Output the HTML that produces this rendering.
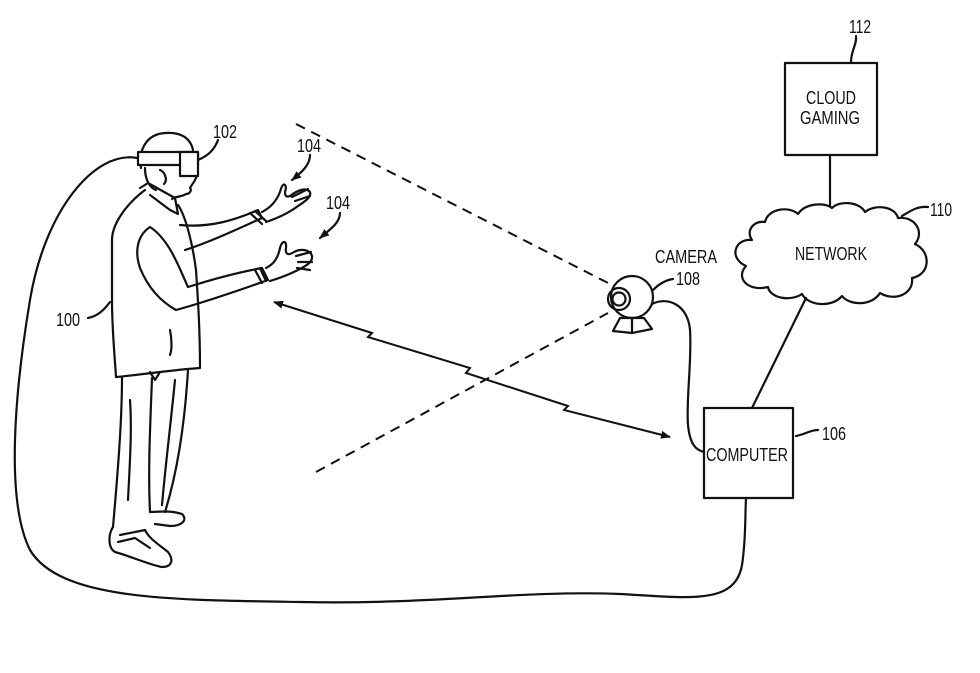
<!DOCTYPE html>
<html><head><meta charset="utf-8"><style>
html,body{margin:0;padding:0;background:#fff;}
svg{display:block;}
text{font-family:"Liberation Sans",sans-serif;fill:#111;}
</style></head><body>
<svg width="980" height="673" viewBox="0 0 980 673" xmlns="http://www.w3.org/2000/svg">
<defs>
<marker id="ah" markerWidth="10" markerHeight="8" refX="9" refY="4" orient="auto" markerUnits="userSpaceOnUse">
<path d="M0,0 L10,4 L0,8 Z" fill="#111"/></marker>
<marker id="ahs" markerWidth="10" markerHeight="8" refX="1" refY="4" orient="auto" markerUnits="userSpaceOnUse">
<path d="M10,0 L0,4 L10,8 Z" fill="#111"/></marker>
</defs>
<g fill="none" stroke="#111" stroke-width="2.2" stroke-linecap="round" stroke-linejoin="round">
<rect x="785" y="63" width="92" height="92"/>
<path d="M851,62 C851,50 857,45 856,36"/>
<line x1="830" y1="155" x2="830" y2="206"/>
<path d="M765,222 C768,208 790,206 798,214 C805,203 825,202 832,208 C840,200 860,202 865,212 C875,204 895,206 898,218 C915,216 925,232 915,244 C932,252 930,275 912,278 C914,294 895,302 880,293 C872,306 850,306 842,296 C832,308 808,306 802,294 C790,302 770,298 768,287 C748,292 735,278 746,266 C728,258 735,238 752,240 C745,230 755,220 765,222 Z"/>
<path d="M902,216 C912,210 918,206 928,207"/>
<line x1="806" y1="298" x2="752" y2="408"/>
<rect x="704" y="408" width="89" height="90"/>
<path d="M796,436 C806,434 810,430 818,430"/>
<circle cx="632" cy="297" r="21"/>
<circle cx="619" cy="299" r="11"/>
<circle cx="619" cy="299" r="6.5"/>
<path d="M613,331 L620,318 L644,318 L652,329 L632,333 Z M632,319 L632,333"/>
<path d="M653,290 C660,283 666,280 673,279"/>
<path d="M652,304 C668,296 688,305 690,330 C692,360 686,400 688,425 C690,445 696,450 704,452"/>
<path d="M137,158 C95,150 45,210 30,300 C15,390 5,500 30,550 C60,600 170,600 300,602 C430,605 520,590 620,594 C690,598 735,605 742,565 C746,540 745,515 746,498"/>
<path d="M198,160 C210,155 215,148 218,140"/>
<path d="M88,318 C98,316 104,310 110,302"/>
<path d="M310,155 C310,165 302,172 292,180" marker-end="url(#ah)"/>
<path d="M340,213 C340,222 332,228 320,238" marker-end="url(#ah)"/>
</g>
<g fill="none" stroke="#111" stroke-width="2" stroke-dasharray="10,7">
<line x1="296" y1="124" x2="612" y2="285"/>
<line x1="316" y1="472" x2="608" y2="313"/>
</g>
<path d="M274,302 L372,333 L368,337 L470,368 L466,373 L568,406 L564,410 L670,437" fill="none" stroke="#111" stroke-width="2" marker-start="url(#ahs)" marker-end="url(#ah)"/>
<g fill="none" stroke="#111" stroke-width="2.2" stroke-linejoin="round" stroke-linecap="round">
<path d="M141,168 C138,148 148,134 165,133 C178,132 190,136 193,150"/>
<path d="M145,168 C145,180 150,188 156,190"/>
<path d="M197,175 C195,182 192,184 190,188 C192,190 190,194 186,194 C182,197 176,196 172,199"/>
<path d="M160,170 C165,172 168,180 164,184"/>
<rect x="138" y="152" width="60" height="13" fill="#fff"/>
<rect x="180" y="152" width="18" height="24" fill="#fff"/>
<path d="M140,188 L148,183 L175,198 L178,214 L170,210 L150,195"/>
<path d="M145,190 C125,205 112,225 112,240 L112,300 C112,330 115,360 116,377 C140,375 170,370 200,368 C200,330 198,300 196,270 C192,240 185,215 178,205"/>
<path d="M180,225 C210,228 235,220 258,210 L262,218 C240,228 210,242 185,250"/>
<path d="M250,213 L262,224 M255,211 L266,221"/>
<path d="M262,212 C270,208 276,202 280,192 C282,184 285,182 286,188 C284,194 285,198 290,196 C298,190 306,187 310,192 C312,197 304,202 298,206 C290,212 278,218 266,222"/>
<path d="M292,197 L308,189 M295,201 L310,196"/>
<path d="M150,227 C138,235 134,250 140,268 C147,285 158,300 176,310 C205,302 240,290 268,280 L262,268 C240,272 210,280 188,287 C180,270 170,240 150,227 Z"/>
<path d="M255,270 L262,283 M260,268 L266,281"/>
<path d="M266,268 C274,264 278,258 280,248 C282,240 287,240 286,248 C285,254 288,256 294,252 C302,248 310,250 312,256 C313,262 306,266 298,270 C290,274 280,278 270,281"/>
<path d="M296,256 L311,252 M298,262 L312,262 M297,268 L310,270"/>
<path d="M150,372 L155,380 L160,372"/>
<path d="M170,330 C172,340 172,350 170,355"/>
<path d="M122,377 C122,420 118,470 113,527"/>
<path d="M152,378 C150,430 148,470 150,512"/>
<path d="M188,370 C185,420 178,470 165,512"/>
<path d="M175,380 C170,430 165,470 162,505"/>
<path d="M130,400 C132,430 130,460 128,500"/>
<path d="M113,527 C108,535 108,548 115,552 C130,556 150,565 162,567 C172,567 174,560 168,552 C160,545 150,540 145,530 L120,535"/>
<path d="M150,512 C158,512 170,510 182,514 C188,520 182,526 170,526 L155,524"/>
<path d="M118,542 L135,538 L150,548"/>
</g>
<g font-size="18">
<text x="806" y="104" textLength="50" lengthAdjust="spacingAndGlyphs">CLOUD</text>
<text x="800" y="124" textLength="60" lengthAdjust="spacingAndGlyphs">GAMING</text>
<text x="849" y="33" textLength="22" lengthAdjust="spacingAndGlyphs">112</text>
<text x="930" y="216" textLength="22" lengthAdjust="spacingAndGlyphs">110</text>
<text x="795" y="260" textLength="72" lengthAdjust="spacingAndGlyphs">NETWORK</text>
<text x="706" y="461" textLength="82" lengthAdjust="spacingAndGlyphs">COMPUTER</text>
<text x="822" y="440" textLength="24" lengthAdjust="spacingAndGlyphs">106</text>
<text x="655" y="263" textLength="62" lengthAdjust="spacingAndGlyphs">CAMERA</text>
<text x="676" y="285" textLength="24" lengthAdjust="spacingAndGlyphs">108</text>
<text x="213" y="138" textLength="24" lengthAdjust="spacingAndGlyphs">102</text>
<text x="297" y="152" textLength="24" lengthAdjust="spacingAndGlyphs">104</text>
<text x="326" y="209" textLength="24" lengthAdjust="spacingAndGlyphs">104</text>
<text x="56" y="326" textLength="24" lengthAdjust="spacingAndGlyphs">100</text>
</g>
</svg>
</body></html>
